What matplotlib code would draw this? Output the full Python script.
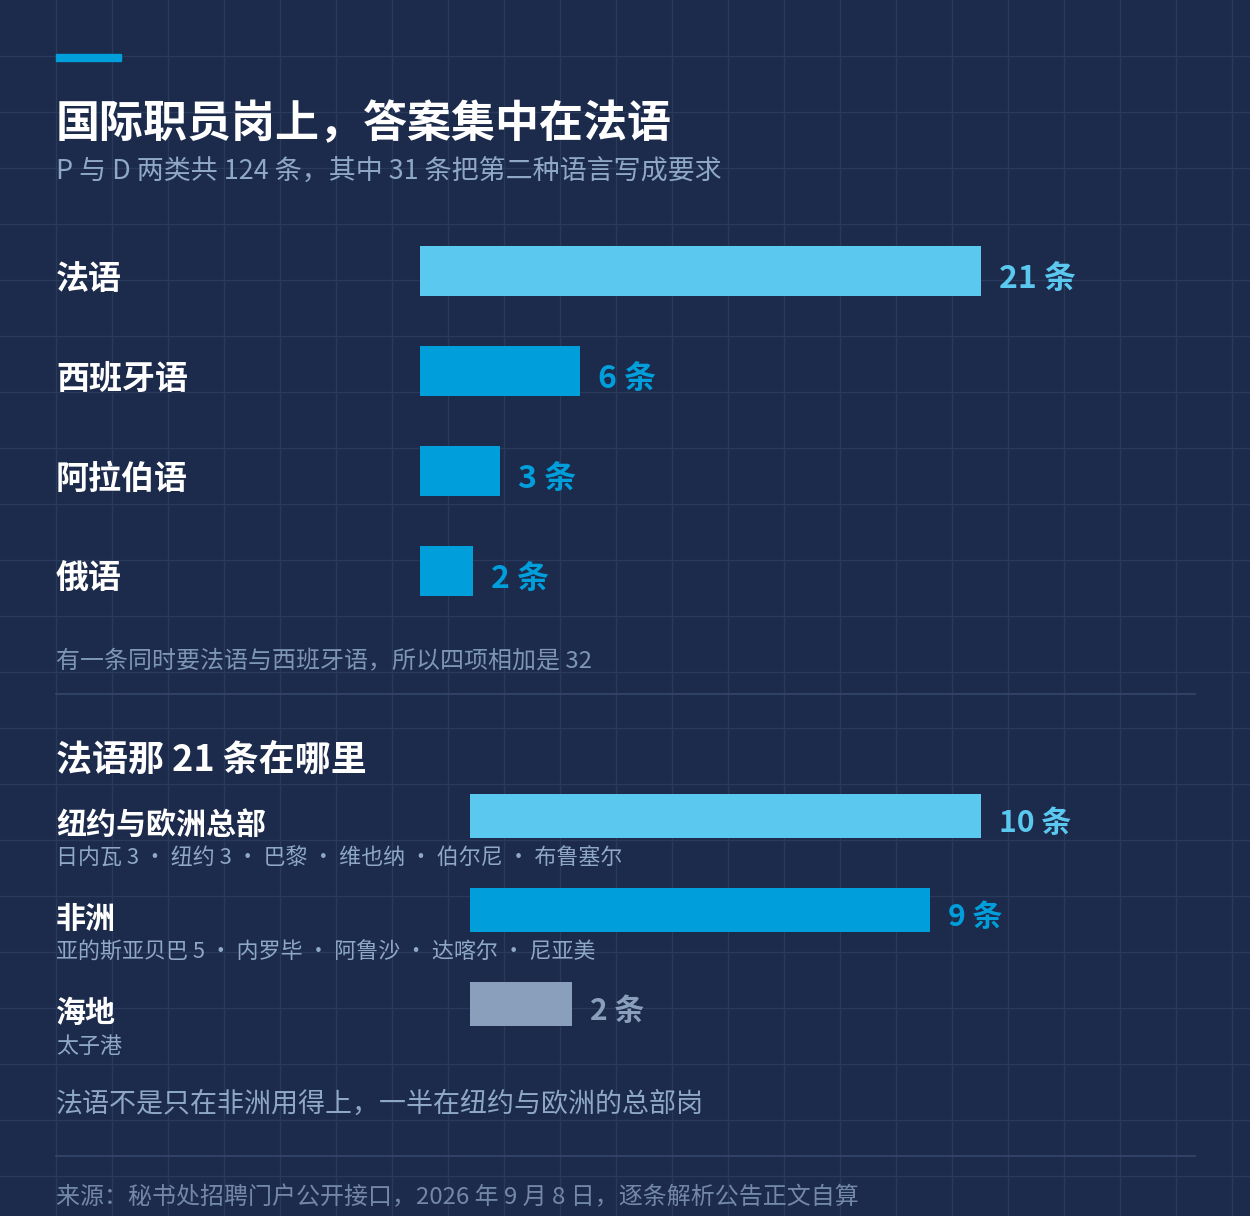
import matplotlib
matplotlib.use("Agg")
import matplotlib.pyplot as plt
from matplotlib.lines import Line2D
from matplotlib.patches import Rectangle

plt.rcParams['font.family'] = ['Noto Sans CJK SC', 'DejaVu Sans']

# ---------------- data ----------------
title = "国际职员岗上，答案集中在法语"
subtitle = "P 与 D 两类共 124 条，其中 31 条把第二种语言写成要求"
lang_names = ["法语", "西班牙语", "阿拉伯语", "俄语"]
lang_counts = [21, 6, 3, 2]
lang_note = "有一条同时要法语与西班牙语，所以四项相加是 32"

section2_title = "法语那 21 条在哪里"
region_names = ["纽约与欧洲总部", "非洲", "海地"]
region_counts = [10, 9, 2]
region_details = ["日内瓦 3 · 纽约 3 · 巴黎 · 维也纳 · 伯尔尼 · 布鲁塞尔",
                  "亚的斯亚贝巴 5 · 内罗毕 · 阿鲁沙 · 达喀尔 · 尼亚美",
                  "太子港"]
footer_note = "法语不是只在非洲用得上，一半在纽约与欧洲的总部岗"
source = "来源：秘书处招聘门户公开接口，2026 年 9 月 8 日，逐条解析公告正文自算"
unit = "条"

# ---------------- style ----------------
BG = "#1c2a4b"
GRID = "#2a3a5c"
WHITE = "#ffffff"
SUB = "#8ea8c6"
NOTE = "#7d96b6"
DIM = "#7388a8"
LIGHT = "#5bc8f0"
MID = "#009fdb"
GREY = "#8a9fbb"
SEP = "#34466a"

W, H = 1250, 1216
fig = plt.figure(figsize=(W / 100, H / 100), dpi=100)
fig.patch.set_facecolor(BG)

# background canvas in pixel coordinates
bg = fig.add_axes([0, 0, 1, 1])
bg.set_xlim(0, W)
bg.set_ylim(H, 0)
bg.axis("off")
bg.set_facecolor(BG)
for x in range(56, W, 56):
    bg.add_line(Line2D([x, x], [0, H], color=GRID, lw=1, zorder=0))
for y in range(56, H, 56):
    bg.add_line(Line2D([0, W], [y, y], color=GRID, lw=1, zorder=0))

def px(v):  # pixels -> points
    return v * 72 / 100

# accent bar
bg.add_patch(Rectangle((56, 54), 65, 7, color=MID, zorder=2))
bg.text(56, 124, title, color=WHITE, fontsize=px(44), fontweight="bold",
        va="center", ha="left")
bg.text(56, 171, subtitle, color=SUB, fontsize=px(27), va="center", ha="left")

# separators
bg.add_line(Line2D([56, 1195], [694, 694], color=SEP, lw=1.2, zorder=1))
bg.add_line(Line2D([56, 1195], [1156, 1156], color=SEP, lw=1.2, zorder=1))

bg.text(56, 662, lang_note, color=NOTE, fontsize=px(24), va="center", ha="left")
bg.text(56, 760, section2_title, color=WHITE, fontsize=px(36), fontweight="bold",
        va="center", ha="left")
bg.text(56, 1104, footer_note, color=SUB, fontsize=px(27), va="center", ha="left")
bg.text(56, 1198, source, color=DIM, fontsize=px(24), va="center", ha="left")

# ---------------- chart 1 ----------------
def fig_axes(x0, y0, x1, y1):
    return fig.add_axes([x0 / W, 1 - y1 / H, (x1 - x0) / W, (y1 - y0) / H])

ax1 = fig_axes(420, 221, 981, 621)
ax1.set_xlim(0, max(lang_counts))
ax1.set_ylim(len(lang_names) - 0.5, -0.5)
ax1.axis("off")
c1 = [LIGHT] + [MID] * (len(lang_counts) - 1)
ax1.barh(range(len(lang_names)), lang_counts, height=0.5, color=c1)
for i, (n, v) in enumerate(zip(lang_names, lang_counts)):
    ax1.text(v + 0.67, i + 0.08, f"{v} {unit}", color=c1[i], fontsize=px(32),
             fontweight="bold", va="center", ha="left", clip_on=False)
    bg.text(56, 279 + 100 * i, n, color=WHITE, fontsize=px(33),
            fontweight="bold", va="center", ha="left")

# ---------------- chart 2 ----------------
ax2 = fig_axes(470, 769, 981, 1051)
ax2.set_xlim(0, max(region_counts))
ax2.set_ylim(len(region_names) - 0.5, -0.5)
ax2.axis("off")
c2 = [LIGHT, MID, GREY]
ax2.barh(range(len(region_names)), region_counts, height=44 / 94, color=c2)
for i, (n, v, d) in enumerate(zip(region_names, region_counts, region_details)):
    ax2.text(v + 0.35, i + 0.07, f"{v} {unit}", color=c2[i], fontsize=px(30),
             fontweight="bold", va="center", ha="left", clip_on=False)
    bg.text(56, 825 + 94 * i, n, color=WHITE, fontsize=px(30),
            fontweight="bold", va="center", ha="left")
    bg.text(56, 859 + 94 * i, d, color=SUB, fontsize=px(22),
            va="center", ha="left")

fig.savefig("out.png", dpi=100, facecolor=BG)
